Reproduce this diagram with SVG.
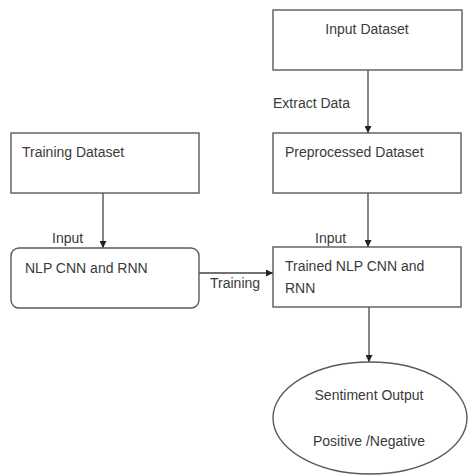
<svg xmlns="http://www.w3.org/2000/svg" width="469" height="476" viewBox="0 0 469 476">
  <style>
    .box { fill: #ffffff; stroke: #5a5a5a; stroke-width: 1.4; }
    .lbl { font-family: "Liberation Sans", Arial, sans-serif; font-size: 14px; fill: #3a3a3a; }
    .wire { stroke: #444444; stroke-width: 1.3; fill: none; marker-end: url(#arrow); }
  </style>
  <defs>
    <marker id="arrow" viewBox="0 0 10 10" refX="10" refY="5" markerWidth="7" markerHeight="7" markerUnits="userSpaceOnUse" orient="auto">
      <path d="M0,0 L10,5 L0,10 z" fill="#222222"/>
    </marker>
  </defs>
  <rect width="469" height="476" fill="#ffffff"/>

  <g id="connectors">
    <line class="wire" x1="368" y1="70" x2="368" y2="133"/>
    <line class="wire" x1="103" y1="193" x2="103" y2="248"/>
    <line class="wire" x1="368" y1="193" x2="368" y2="247"/>
    <line class="wire" x1="199" y1="273" x2="273" y2="273"/>
    <line class="wire" x1="369" y1="307" x2="369" y2="362"/>
    <text class="lbl" x="273" y="108">Extract Data</text>
    <text class="lbl" x="52" y="243">Input</text>
    <text class="lbl" x="315" y="243">Input</text>
    <text class="lbl" x="210" y="288">Training</text>
  </g>

  <g id="input-dataset">
    <rect class="box" x="273" y="10" width="189" height="60"/>
    <text class="lbl" x="367" y="34" text-anchor="middle">Input Dataset</text>
  </g>

  <g id="preprocessed-dataset">
    <rect class="box" x="273" y="133" width="188" height="60"/>
    <text class="lbl" x="285" y="157">Preprocessed Dataset</text>
  </g>

  <g id="training-dataset">
    <rect class="box" x="11" y="133" width="188" height="60"/>
    <text class="lbl" x="22" y="157">Training Dataset</text>
  </g>

  <g id="nlp-cnn-rnn">
    <rect class="box" x="11" y="248" width="188" height="60" rx="8" ry="8"/>
    <text class="lbl" x="25" y="273">NLP CNN and RNN</text>
  </g>

  <g id="trained-nlp">
    <rect class="box" x="273" y="247" width="188" height="60"/>
    <text class="lbl" x="285" y="271">Trained NLP CNN and</text>
    <text class="lbl" x="285" y="293">RNN</text>
  </g>

  <g id="sentiment-output">
    <ellipse class="box" cx="370" cy="418" rx="97" ry="56"/>
    <text class="lbl" x="369" y="400" text-anchor="middle">Sentiment Output</text>
    <text class="lbl" x="369" y="446" text-anchor="middle">Positive /Negative</text>
  </g>
</svg>
